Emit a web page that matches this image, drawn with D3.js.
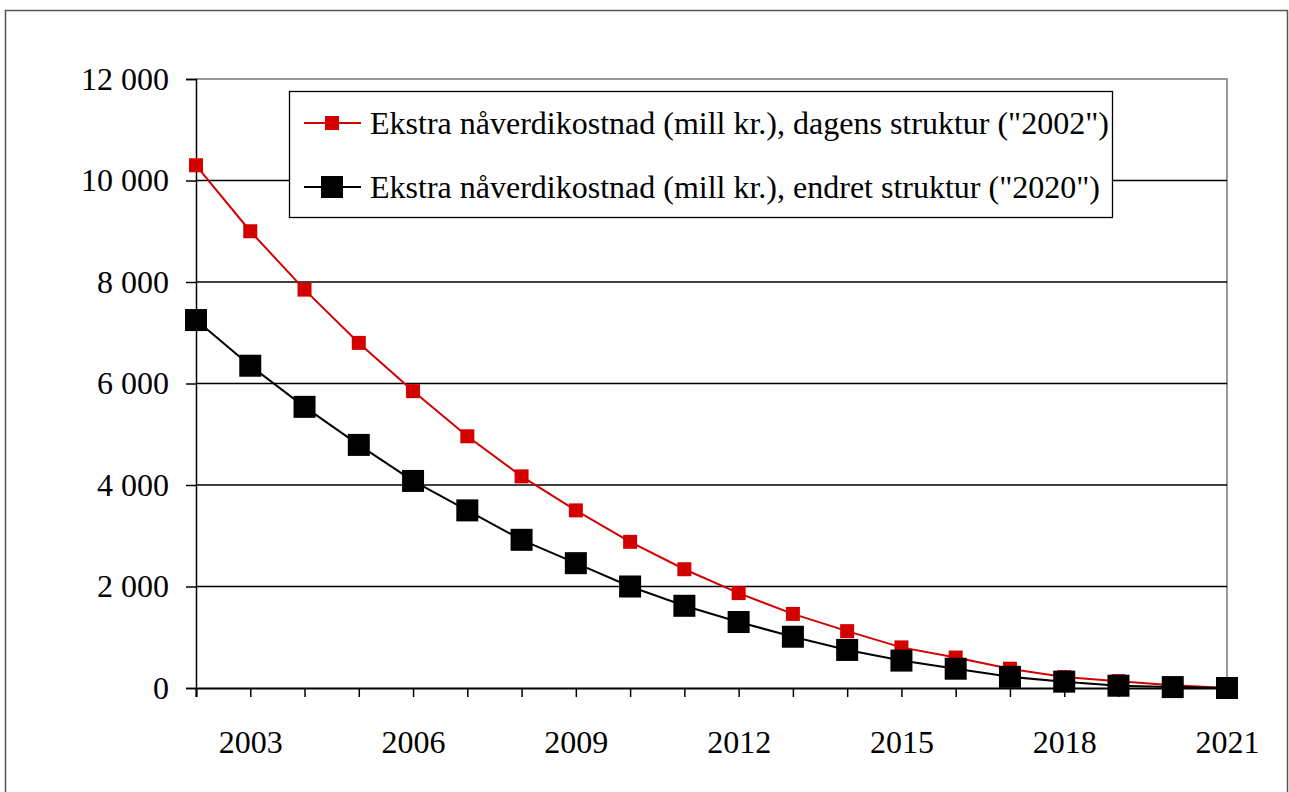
<!DOCTYPE html>
<html lang="no">
<head>
<meta charset="UTF-8">
<title>Ekstra nåverdikostnad</title>
<script src="https://d3js.org/d3.v7.min.js"></script>
<style>
  body { margin: 0; background: #fff; }
  svg { display: block; font-family: "Liberation Serif", "Times New Roman", serif; }
</style>
</head>
<body>
<svg id="chart" width="1289" height="792"></svg>
<script>
// data
var years = [2002, 2003, 2004, 2005, 2006, 2007, 2008, 2009, 2010, 2011,
             2012, 2013, 2014, 2015, 2016, 2017, 2018, 2019, 2020, 2021];
var dagens = [10300, 9000, 7850, 6800, 5850, 4960, 4170, 3500, 2880, 2340,
              1870, 1460, 1120, 800, 600, 380, 215, 135, 55, 0];
var endret = [7250, 6350, 5540, 4790, 4080, 3500, 2920, 2460, 2000, 1620,
              1300, 1010, 750, 540, 380, 220, 125, 45, 18, 0];
var yTicks = [0, 2000, 4000, 6000, 8000, 10000, 12000];
var xLabels = [2003, 2006, 2009, 2012, 2015, 2018, 2021];
var seriesNames = ['Ekstra nåverdikostnad (mill kr.), dagens struktur ("2002")',
                   'Ekstra nåverdikostnad (mill kr.), endret struktur ("2020")'];

var svg = d3.select("#chart");
var plotLeft = 196, plotRight = 1227, plotTop = 79, plotBottom = 688;

var x = d3.scaleLinear().domain([2002, 2021]).range([plotLeft, plotRight]);
var y = d3.scaleLinear().domain([0, 12000]).range([plotBottom, plotTop]);
var nb = d3.formatLocale({decimal: ",", thousands: " ", grouping: [3], currency: ["", ""]});

// outer frame
svg.append("rect")
  .attr("x", 5.5).attr("y", 10.5).attr("width", 1282).attr("height", 800)
  .attr("fill", "none").attr("stroke", "#555").attr("stroke-width", 1.5);

// plot area border (top + right, grey)
svg.append("path")
  .attr("d", "M" + plotLeft + "," + plotTop + "H" + plotRight + "V" + plotBottom)
  .attr("fill", "none").attr("stroke", "#999").attr("stroke-width", 2);

// gridlines
svg.append("g").selectAll("line").data(yTicks.filter(function(d) { return d > 0 && d < 12000; }))
  .enter().append("line")
  .attr("x1", plotLeft).attr("x2", plotRight)
  .attr("y1", function(d) { return y(d); }).attr("y2", function(d) { return y(d); })
  .attr("stroke", "#000").attr("stroke-width", 1.3);

// y axis
var yAxis = svg.append("g")
  .attr("transform", "translate(" + plotLeft + ",0)")
  .call(d3.axisLeft(y).tickValues(yTicks).tickSize(10).tickPadding(17).tickFormat(nb.format(",d")));
yAxis.select(".domain").attr("stroke", "#000").attr("stroke-width", 1.5);
yAxis.selectAll(".tick line").attr("stroke", "#000").attr("stroke-width", 1.5);
yAxis.selectAll("text").attr("font-size", 32).attr("fill", "#000")
  .attr("font-family", "Liberation Serif");

// x axis
var xAxis = svg.append("g")
  .attr("transform", "translate(0," + plotBottom + ")")
  .call(d3.axisBottom(x).tickValues(years).tickSize(9)
    .tickFormat(function(d) { return xLabels.indexOf(d) >= 0 ? d : ""; }));
xAxis.select(".domain").attr("stroke", "#000").attr("stroke-width", 2);
xAxis.selectAll(".tick line").attr("stroke", "#000").attr("stroke-width", 1.5);
xAxis.selectAll("text").attr("font-size", 32).attr("fill", "#000")
  .attr("font-family", "Liberation Serif")
  .attr("y", 54).attr("dy", "0.35em");

var line = d3.line().x(function(d, i) { return x(years[i]); }).y(function(d) { return y(d); });

// red series
svg.append("path").datum(dagens).attr("d", line)
  .attr("fill", "none").attr("stroke", "#d40000").attr("stroke-width", 2);
svg.append("g").selectAll("rect").data(dagens).enter().append("rect")
  .attr("x", function(d, i) { return x(years[i]) - 7; })
  .attr("y", function(d) { return y(d) - 7; })
  .attr("width", 14).attr("height", 14)
  .attr("fill", "#d40000");

// black series
svg.append("path").datum(endret).attr("d", line)
  .attr("fill", "none").attr("stroke", "#000").attr("stroke-width", 2);
svg.append("g").selectAll("rect").data(endret).enter().append("rect")
  .attr("x", function(d, i) { return x(years[i]) - 11; })
  .attr("y", function(d) { return y(d) - 11; })
  .attr("width", 22).attr("height", 22)
  .attr("fill", "#000");

// legend
var legend = svg.append("g");
legend.append("rect")
  .attr("x", 289.5).attr("y", 91.5).attr("width", 823).attr("height", 126)
  .attr("fill", "#fff").attr("stroke", "#000").attr("stroke-width", 1.3);
var colors = ["#d40000", "#000"];
var sizes = [14, 22];
seriesNames.forEach(function(name, i) {
  var cy = 123 + i * 64;
  legend.append("line").attr("x1", 304).attr("x2", 361).attr("y1", cy).attr("y2", cy)
    .attr("stroke", colors[i]).attr("stroke-width", 2);
  legend.append("rect").attr("x", 332 - sizes[i] / 2).attr("y", cy - sizes[i] / 2)
    .attr("width", sizes[i]).attr("height", sizes[i]).attr("fill", colors[i]);
  legend.append("text").attr("x", 370).attr("y", cy).attr("dy", "0.35em")
    .attr("font-size", 32).attr("fill", "#000").text(name);
});
</script>
</body>
</html>
